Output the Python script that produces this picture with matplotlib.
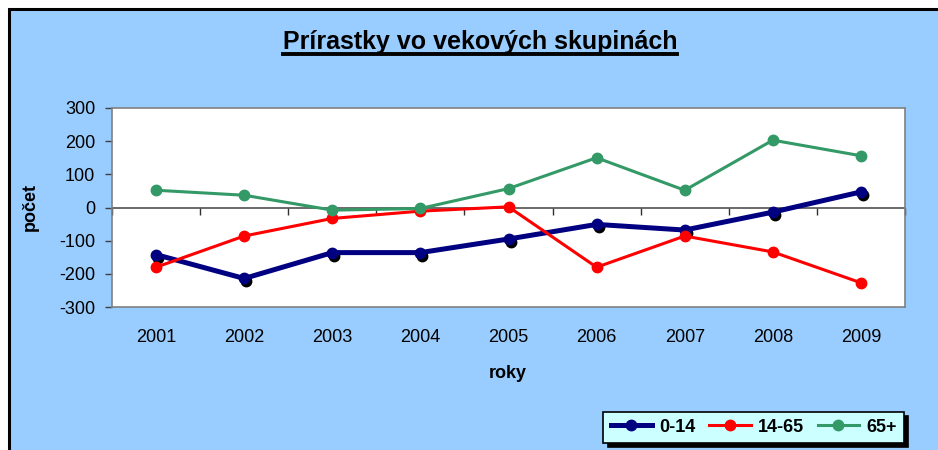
import matplotlib.pyplot as plt
from matplotlib.patches import Rectangle
from matplotlib.lines import Line2D
from matplotlib.transforms import offset_copy
import numpy as np

plt.rcParams['font.family'] = ['Liberation Sans', 'DejaVu Sans']
plt.rcParams['axes.unicode_minus'] = False

roky = ['2001', '2002', '2003', '2004', '2005', '2006', '2007', '2008', '2009']
deti = [-142, -214, -136, -136, -95, -51, -68, -14, 47]        # 0-14
produktivni = [-180, -86, -33, -11, 2, -180, -86, -134, -227]  # 14-65
seniori = [52, 37, -8, -3, 57, 150, 52, 203, 156]              # 65+

BG = '#99CCFF'
NAVY = '#000080'
RED = '#FF0000'
GREEN = '#339966'

fig = plt.figure(figsize=(9.38, 4.5), dpi=100, facecolor='white')

# outer chart frame (white margin top/left, black border)
fig.patches.append(Rectangle((8.5 / 938, -0.1), 1.2, 1 - 9.5 / 450 + 0.1,
                             transform=fig.transFigure, facecolor=BG,
                             edgecolor='black', lw=2.2, zorder=-10))

ax = fig.add_axes([112 / 938, 143 / 450, 793 / 938, 199 / 450])
ax.set_facecolor('white')
x = np.arange(len(roky))

# shadow of the 0-14 markers
shadow = offset_copy(ax.transData, fig=fig, x=2, y=-3, units='dots')
ax.plot(x, deti, 'o', color='black', ms=7.5, transform=shadow, zorder=3)

ax.plot(x, deti, '-o', color=NAVY, lw=3.6, ms=7.5, label='0-14', zorder=4)
ax.plot(x, produktivni, '-o', color=RED, lw=2.2, ms=7.5, label='14-65', zorder=4)
ax.plot(x, seniori, '-o', color=GREEN, lw=2.2, ms=7.5, label='65+', zorder=4)

ax.set_xlim(-0.5, len(roky) - 0.5)
ax.set_ylim(-300, 300)
ax.set_yticks(range(-300, 301, 100))
ax.set_xticks(x)
ax.set_xticklabels(roky)
ax.tick_params(axis='x', length=0, pad=16, labelsize=13)
ax.tick_params(axis='y', length=5, width=1, color='#404040', pad=7, labelsize=13)
for s in ax.spines.values():
    s.set_color('#808080')
    s.set_linewidth(1.2)

# category axis crossing at zero
ax.axhline(0, color='#505050', lw=1.2, zorder=2)
zero_axis = ax.secondary_xaxis(0.5)
zero_axis.set_alignment('bottom')
zero_axis.set_xticks(np.arange(len(roky) + 1) - 0.5)
zero_axis.set_xticklabels([])
zero_axis.tick_params(axis='x', length=5, width=1, color='#303030',
                      direction='out')
for s in zero_axis.spines.values():
    s.set_visible(False)

fig.text(30 / 938, 1 - 207 / 450, 'počet', rotation=90, ha='center',
         va='center', fontsize=13, fontweight='bold')
fig.text(508 / 938, 1 - 373 / 450, 'roky', ha='center', va='center',
         fontsize=13, fontweight='bold')

title = fig.text(480 / 938, 1 - 42 / 450, 'Prírastky vo vekových skupinách',
                 ha='center', va='center', fontsize=18, fontweight='bold')
fig.canvas.draw()
bb = title.get_window_extent()
fig.lines.append(Line2D([bb.x0, bb.x1], [bb.y0, bb.y0], color='black',
                        lw=2.8, transform=None))

leg = ax.legend(loc='lower right', bbox_to_anchor=(904 / 938, 7 / 450),
                bbox_transform=fig.transFigure, ncol=3, frameon=True,
                fancybox=False, facecolor='#CCFFFF', edgecolor='black',
                framealpha=1, prop={'weight': 'bold', 'size': 13},
                handlelength=2.3, handletextpad=0.4, columnspacing=0.75,
                borderpad=0.4, borderaxespad=0,
                shadow={'color': 'black', 'alpha': 1, 'ox': 3, 'oy': -3})
leg.get_frame().set_linewidth(1.2)

fig.savefig('out.png', dpi=100, facecolor=fig.get_facecolor())
